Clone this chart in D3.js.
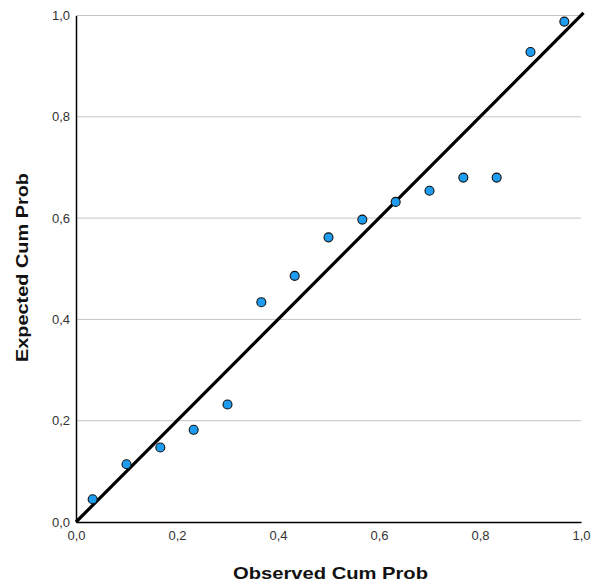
<!DOCTYPE html>
<html><head><meta charset="utf-8">
<script src="https://cdn.jsdelivr.net/npm/d3@7"></script>
<style>body{margin:0;background:#fff}</style>
</head><body>
<svg id="c" width="593" height="585"></svg>
<script>
const observed = [0.033,0.100,0.167,0.233,0.300,0.367,0.433,0.500,0.567,0.633,0.700,0.767,0.833,0.900,0.967];
const expected = [0.045,0.114,0.147,0.182,0.232,0.434,0.486,0.562,0.597,0.632,0.654,0.680,0.680,0.928,0.988];
const ticks = [0,0.2,0.4,0.6,0.8,1.0];
const tickLabels = ["0,0","0,2","0,4","0,6","0,8","1,0"];

const svg = d3.select("#c");
const x = d3.scaleLinear().domain([0,1]).range([76,581]);
const y = d3.scaleLinear().domain([0,1]).range([522,15.5]);
const font = "'Liberation Sans', Arial, sans-serif";

// gridlines
svg.append("g").selectAll("line").data(ticks.slice(1)).join("line")
  .attr("x1", x(0)).attr("x2", x(1)).attr("y1", d=>y(d)).attr("y2", d=>y(d))
  .attr("stroke", "#c4c4c4").attr("stroke-width", 1);

// axes
const xAxis = d3.axisBottom(x).tickValues(ticks).tickFormat((d,i)=>tickLabels[i]).tickSize(0).tickPadding(9);
const yAxis = d3.axisLeft(y).tickValues(ticks).tickFormat((d,i)=>tickLabels[i]).tickSize(0).tickPadding(6);
const gx = svg.append("g").attr("transform", `translate(0,${y(0)})`).call(xAxis);
const gy = svg.append("g").attr("transform", `translate(${x(0)},0)`).call(yAxis);
[gx, gy].forEach(g => {
  g.select(".domain").attr("stroke", "#000").attr("stroke-width", 1.5);
  g.selectAll("text").attr("font-family", font).attr("font-size", 13).attr("fill", "#333");
});

// reference line
svg.append("line")
  .attr("x1", x(0)).attr("y1", y(0)).attr("x2", x(1.005)).attr("y2", y(1.005))
  .attr("stroke", "#000").attr("stroke-width", 3.2);

// points
svg.append("g").selectAll("circle").data(observed).join("circle")
  .attr("cx", d=>x(d)).attr("cy", (d,i)=>y(expected[i])).attr("r", 4.5)
  .attr("fill", "#1e9cef").attr("stroke", "#111").attr("stroke-width", 1.1);

// titles
svg.append("text").attr("x", 330.5).attr("y", 579).attr("text-anchor","middle")
  .attr("font-family", font).attr("font-size", 17).attr("font-weight","bold").attr("fill","#111")
  .attr("textLength", 195).attr("lengthAdjust", "spacingAndGlyphs")
  .text("Observed Cum Prob");
svg.append("text").attr("transform","translate(27.5,267.5) rotate(-90)").attr("text-anchor","middle")
  .attr("font-family", font).attr("font-size", 17).attr("font-weight","bold").attr("fill","#111")
  .attr("textLength", 189).attr("lengthAdjust", "spacingAndGlyphs")
  .text("Expected Cum Prob");
</script>
</body></html>
